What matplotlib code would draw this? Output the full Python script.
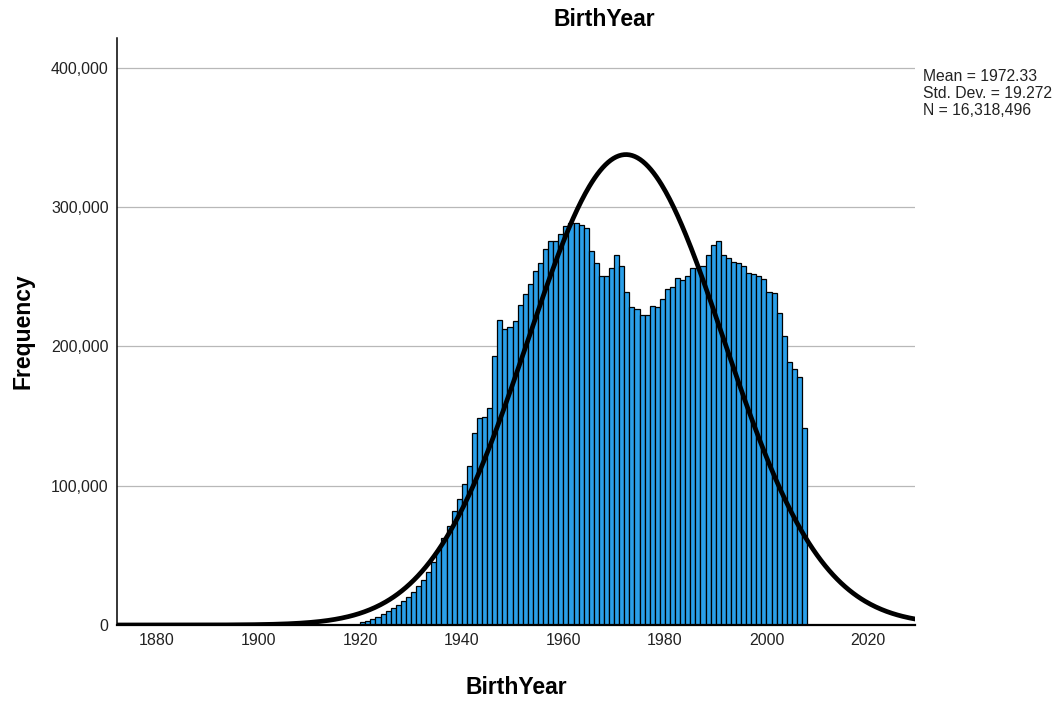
import numpy as np
import matplotlib
matplotlib.use("Agg")
from matplotlib import pyplot as plt
from matplotlib.ticker import FuncFormatter

# birth year counts, one bin per year
years = list(range(1920, 2008))
counts = [
    1800, 3000, 4500, 6000, 8000, 10000, 12000, 14400, 17000, 20000,      # 1920-1929
    23500, 28000, 32000, 38000, 45000, 54000, 62500, 71000, 82000, 90500,  # 1930-1939
    101000, 114000, 138000, 148600, 149000, 156000, 193000, 219000, 212600, 214000,  # 1940-1949
    218500, 230000, 238000, 245000, 254000, 260000, 270000, 276000, 276000, 280600,  # 1950-1959
    286500, 288500, 289000, 287000, 285000, 268600, 259700, 250600, 250600, 256000,  # 1960-1969
    265700, 258000, 239400, 228000, 227000, 222600, 222600, 229000, 228000, 234000,  # 1970-1979
    241000, 242500, 249000, 247700, 250600, 256000, 256000, 257800, 265700, 272900,  # 1980-1989
    276000, 265700, 263300, 261000, 259700, 258000, 253000, 252000, 250600, 248700,  # 1990-1999
    239400, 238700, 223800, 207800, 188600, 183600, 178300, 141700,                  # 2000-2007
]

mean = 1972.33
std = 19.272
n_total = 16318496

plt.rcParams['font.family'] = ['Liberation Sans', 'DejaVu Sans']

fig = plt.figure(figsize=(10.6, 7.01), dpi=100)
ax = fig.add_axes([117 / 1060, 76 / 701, 798 / 1060, 587 / 701])

ax.bar(years, counts, width=1, align='edge', color='#2a9fe9',
       edgecolor='black', linewidth=0.9, zorder=2)

# normal curve scaled to counts (bin width = 1 year)
xs = np.linspace(1872, 2030, 600)
ys = n_total / (std * np.sqrt(2 * np.pi)) * np.exp(-0.5 * ((xs - mean) / std) ** 2)
ax.plot(xs, ys, color='black', linewidth=3.4, zorder=3, solid_capstyle='butt')

ax.set_xlim(1872.1, 2029.25)
ax.set_ylim(0, 421500)
ax.set_xticks(range(1880, 2021, 20))
ax.set_yticks(range(0, 400001, 100000))
ax.yaxis.set_major_formatter(FuncFormatter(lambda v, p: "{:,.0f}".format(v)))
ax.tick_params(length=0, labelsize=11.5, colors='#222222', pad=6)
ax.yaxis.grid(True, color='#b8b8b8', linewidth=0.9, zorder=0)
ax.set_axisbelow(True)

for s in ['top', 'right']:
    ax.spines[s].set_visible(False)
ax.spines['left'].set_linewidth(1.1)
ax.spines['bottom'].set_linewidth(1.6)

ax.set_xlabel("BirthYear", fontsize=16.5, fontweight='bold', labelpad=20)
ax.set_ylabel("Frequency", fontsize=16.5, fontweight='bold', labelpad=12)
fig.text(604 / 1060, 1 - 20 / 701, "BirthYear", fontsize=16.5, fontweight='bold',
         ha='center', va='center')

fig.text(923 / 1060, 1 - 69 / 701,
         "Mean = 1972.33\nStd. Dev. = 19.272\nN = 16,318,496",
         fontsize=11.3, ha='left', va='top', linespacing=1.16, color='#222222')

fig.savefig("out.png", dpi=100)
